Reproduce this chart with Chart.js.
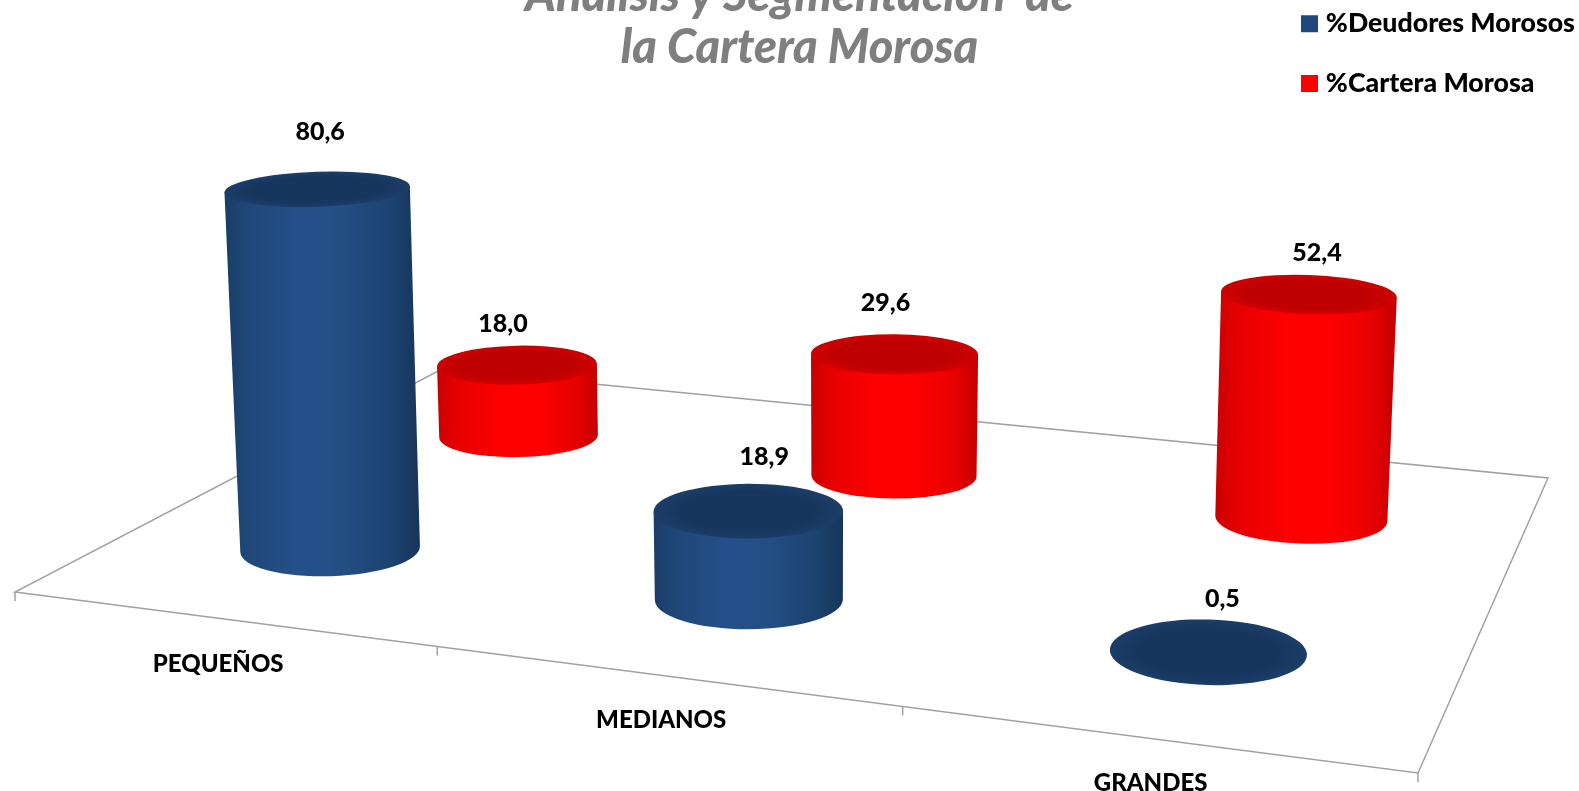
<!DOCTYPE html>
<html>
<head>
<meta charset="utf-8">
<title>Cartera Morosa</title>
<script src="https://cdn.jsdelivr.net/npm/chart.js@4/dist/chart.umd.min.js"></script>
<style>
    html, body { margin: 0; padding: 0; background: #fff; overflow: hidden; }
    #wrap { width: 1579px; height: 791px; }
</style>
</head>
<body>
<div id="wrap"><canvas id="chart"></canvas></div>
<script>
const categories = ['PEQUEÑOS', 'MEDIANOS', 'GRANDES'];
const deudores = [80.6, 18.9, 0.5];
const cartera = [18.0, 29.6, 52.4];
const titleLines = ['Análisis y Segmentación  de', 'la Cartera Morosa'];

const FONT = 'Lato, Carlito, sans-serif';

// floor of the 3d box, screen corners (front-left, front-right, back-right, back-left)
const FLOOR = [[15, 592], [1418, 773], [1548, 478], [442, 369]];
const ROW_DEPTH = [0.232, 0.717]; // where each series sits between front and back
const BASE_LIFT = 4;
const RADIUS_K = 93.7;
const HEIGHT_PER_UNIT = 0.0497;

// small nudges for the value labels, relative to the top of each cylinder
const LABEL_DX = [[3, 16, 14], [-14, -9, 8]];
const LABEL_DY = [[-57, -54, -53], [-41, -51, -41]];

const SHADES = [
    { side: ['#1a3c68', '#1f4878', '#24508a', '#234e84', '#1c426f', '#16355a'], rim: '#1b3d68', top: '#17365d' },
    { side: ['#c80000', '#e60000', '#ff0000', '#ff0000', '#e80000', '#c40000'], rim: '#cf0000', top: '#bf0000' }
];

// unit square -> floor quad
function makeFloorMap(q) {
    const [p0, p1, p2, p3] = q;
    const dx1 = p1[0] - p2[0], dx2 = p3[0] - p2[0], sx = p0[0] - p1[0] + p2[0] - p3[0];
    const dy1 = p1[1] - p2[1], dy2 = p3[1] - p2[1], sy = p0[1] - p1[1] + p2[1] - p3[1];
    const den = dx1 * dy2 - dy1 * dx2;
    const g = (sx * dy2 - sy * dx2) / den;
    const h = (dx1 * sy - dy1 * sx) / den;
    const a = p1[0] - p0[0] + g * p1[0], b = p3[0] - p0[0] + h * p3[0];
    const d = p1[1] - p0[1] + g * p1[1], e = p3[1] - p0[1] + h * p3[1];
    return function (u, v) {
        const w = g * u + h * v + 1;
        return { x: (a * u + b * v + p0[0]) / w, y: (d * u + e * v + p0[1]) / w, w: w };
    };
}
const floorAt = makeFloorMap(FLOOR);

const ellipseRatio = y => 0.13 + 0.00031 * y;
const ellipseTilt = x => (x - 800) * 0.00007;

function drawCylinder(ctx, base, value, shade) {
    const baseY = base.y - BASE_LIFT;
    const rb = RADIUS_K / base.w;
    const height = value * HEIGHT_PER_UNIT * rb;
    const rt = rb * (1 + 0.0004 * value);
    const topY = baseY - height;
    const topX = base.x + (base.x - 830) * 0.000072 * height;
    const tiltB = ellipseTilt(base.x), tiltT = ellipseTilt(topX);

    if (height > 4) {
        const left = Math.min(base.x - rb, topX - rt), right = Math.max(base.x + rb, topX + rt);
        const grad = ctx.createLinearGradient(left, 0, right, 0);
        const stops = [0, 0.12, 0.4, 0.62, 0.86, 1];
        stops.forEach((s, i) => grad.addColorStop(s, shade.side[i]));
        ctx.fillStyle = grad;
        ctx.beginPath();
        ctx.moveTo(topX + rt * Math.cos(tiltT), topY + rt * Math.sin(tiltT));
        ctx.ellipse(base.x, baseY, rb, rb * ellipseRatio(baseY), tiltB, 0, Math.PI);
        ctx.lineTo(topX - rt * Math.cos(tiltT), topY - rt * Math.sin(tiltT));
        ctx.closePath();
        ctx.fill();
    }

    // top face, soft darker centre
    const ry = rt * ellipseRatio(topY);
    ctx.save();
    ctx.translate(topX, topY);
    ctx.rotate(tiltT);
    ctx.scale(1, ry / rt);
    const cap = ctx.createRadialGradient(0, 0, 0, 0, 0, rt);
    cap.addColorStop(0, shade.top);
    cap.addColorStop(0.7, shade.top);
    cap.addColorStop(1, shade.rim);
    ctx.fillStyle = cap;
    ctx.beginPath();
    ctx.arc(0, 0, rt, 0, Math.PI * 2);
    ctx.fill();
    ctx.restore();

    return { x: topX, y: topY };
}

const box3d = {
    id: 'box3d',
    afterLayout(chart) {
        // title runs off the top of the picture, legend sits in the corner
        const t = chart.titleBlock;
        t.top = -30;
        t.left += 10;
        t.right += 10;
        const l = chart.legend;
        l.left = 1273.5;
        l.top = -22.5;
    },
    beforeDatasetDraw() {
        return false; // the cylinders below replace the flat bars
    },
    beforeDatasetsDraw(chart) {
        const ctx = chart.ctx;
        const xs = chart.scales.x, ys = chart.scales.y;
        ctx.save();

        // floor outline and ticks
        ctx.strokeStyle = '#a0a0a0';
        ctx.lineWidth = 1.5;
        ctx.beginPath();
        FLOOR.forEach((p, i) => (i ? ctx.lineTo(p[0], p[1]) : ctx.moveTo(p[0], p[1])));
        ctx.closePath();
        ctx.stroke();
        for (let i = 0; i <= categories.length; i++) {
            const p = floorAt(i / categories.length, 0);
            ctx.beginPath();
            ctx.moveTo(p.x, p.y);
            ctx.lineTo(p.x, p.y + 9);
            ctx.stroke();
        }

        // category names under the front edge
        ctx.fillStyle = '#000';
        ctx.font = '900 24px ' + FONT;
        ctx.textAlign = 'center';
        ctx.textBaseline = 'middle';
        categories.forEach((name, i) => {
            const u = xs.getDecimalForPixel(xs.getPixelForValue(i));
            const p = floorAt(u, 0);
            ctx.fillText(name, p.x - 3, p.y + 46 - i);
        });

        // back row first, blue sits in front of red
        const tops = [];
        for (let ds = chart.data.datasets.length - 1; ds >= 0; ds--) {
            chart.getDatasetMeta(ds).data.forEach((bar, i) => {
                const u = xs.getDecimalForPixel(bar.x);
                const value = ys.getValueForPixel(bar.y);
                const top = drawCylinder(ctx, floorAt(u, ROW_DEPTH[ds]), value, SHADES[ds]);
                tops.push({ top, ds, i, text: chart.data.datasets[ds].data[i].toFixed(1).replace('.', ',') });
            });
        }

        ctx.fillStyle = '#000';
        ctx.font = '900 25px ' + FONT;
        tops.forEach(t => {
            ctx.fillText(t.text, t.top.x + LABEL_DX[t.ds][t.i], t.top.y + LABEL_DY[t.ds][t.i]);
        });
        ctx.restore();
    }
};

new Chart(document.getElementById('chart'), {
    type: 'bar',
    data: {
        labels: categories,
        datasets: [
            { label: '%Deudores Morosos', data: deudores, backgroundColor: '#1f497d', borderWidth: 0 },
            { label: '%Cartera Morosa', data: cartera, backgroundColor: '#ff0000', borderWidth: 0 }
        ]
    },
    options: {
        responsive: true,
        maintainAspectRatio: false,
        animation: false,
        events: [],
        scales: {
            x: { display: false, stacked: true },
            y: { display: false, stacked: false, min: 0, max: 100 }
        },
        plugins: {
            title: {
                display: true,
                text: titleLines,
                color: '#7f7f7f',
                padding: 0,
                font: { family: FONT, size: 47, weight: '900', style: 'italic', lineHeight: 52 / 47 }
            },
            legend: {
                position: 'right',
                align: 'start',
                labels: {
                    usePointStyle: true,
                    pointStyle: 'rect',
                    boxWidth: 6,
                    boxHeight: 17,
                    padding: 33,
                    color: '#000',
                    font: { family: FONT, size: 26.7, weight: '900' }
                }
            },
            tooltip: { enabled: false }
        }
    },
    plugins: [box3d]
});
</script>
</body>
</html>
